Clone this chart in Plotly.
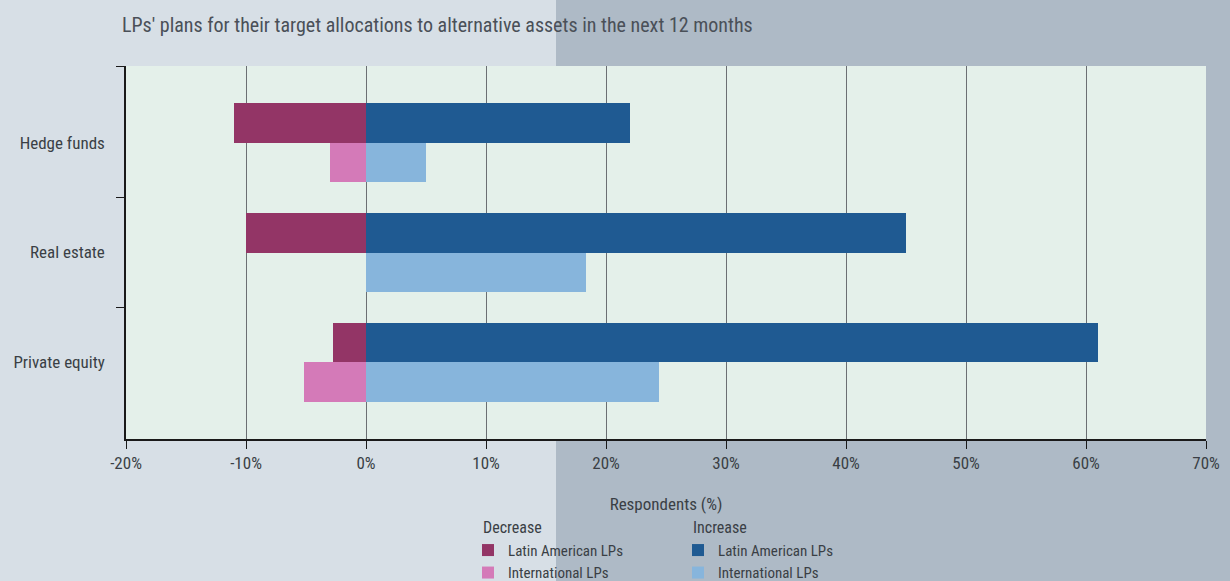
import plotly.graph_objects as go

# Asset classes, bottom to top on the y axis
categories = ["Private equity", "Real estate", "Hedge funds"]
positions = [0, 1, 2]

# Share of respondents (%) planning to decrease / increase target allocations
latam_decrease = [-2.75, -10, -11]
intl_decrease = [-5.2, 0, -3]
latam_increase = [61, 45, 22]
intl_increase = [24.4, 18.3, 5]

x_ticks = [-20, -10, 0, 10, 20, 30, 40, 50, 60, 70]

FONT = "Liberation Sans Narrow, Roboto Condensed, Arial Narrow, sans-serif"
TEXT = "#3a3f45"
FS = 17
LEG_FS = 15

BAR_W = 0.36

fig = go.Figure()

def add_bars(values, name, color, upper, legend, group_title):
    fig.add_trace(go.Bar(
        x=values, y=positions, orientation="h", name=name,
        marker=dict(color=color, line=dict(width=0)),
        width=BAR_W, offset=0 if upper else -BAR_W,
        legend=legend,
        legendgroup=legend,
        legendgrouptitle=dict(text=group_title, font=dict(family=FONT, size=LEG_FS + 1, color=TEXT)),
        hoverinfo="x+y",
    ))

add_bars(latam_decrease, "Latin American LPs", "#933566", True, "legend", "Decrease")
add_bars(intl_decrease, "International LPs", "#d47ab8", False, "legend", "Decrease")
add_bars(latam_increase, "Latin American LPs", "#1f5a92", True, "legend2", "Increase")
add_bars(intl_increase, "International LPs", "#87b5dc", False, "legend2", "Increase")

# Background panels: light left half, darker right half, mint plot area
fig.add_shape(type="rect", xref="paper", yref="paper",
              x0=(556 - 126) / 1080, x1=2, y0=-1, y1=2,
              fillcolor="#aebac6", line=dict(width=0), layer="below")
fig.add_shape(type="rect", xref="paper", yref="paper",
              x0=0, x1=1, y0=0, y1=1,
              fillcolor="#e4f0ea", line=dict(width=0), layer="below")

legend_style = dict(
    orientation="v", xanchor="left", yanchor="top",
    xref="container", yref="container",
    bgcolor="rgba(0,0,0,0)", borderwidth=0,
    font=dict(family=FONT, size=LEG_FS, color=TEXT),
    itemwidth=30, tracegroupgap=0, traceorder="normal",
    indentation=-10,
)

fig.update_layout(
    width=1230, height=581,
    margin=dict(l=126, r=24, t=66, b=142, autoexpand=False),
    paper_bgcolor="#d7dfe6",
    plot_bgcolor="rgba(0,0,0,0)",
    barmode="overlay",
    bargap=0,
    font=dict(family=FONT, size=FS, color=TEXT),
    title=dict(
        text="LPs' plans for their target allocations to alternative assets in the next 12 months",
        x=122 / 1230, xanchor="left", y=1 - 25 / 581, yanchor="middle",
        font=dict(family=FONT, size=20, color="#4a5058"),
    ),
    xaxis=dict(
        range=[-20, 70], tickvals=x_ticks,
        ticktext=[f"{v}%" for v in x_ticks],
        showgrid=True, gridcolor="#6b6f73", gridwidth=1,
        zeroline=False,
        showline=True, linecolor="#1a1a1a", linewidth=1.5,
        ticks="outside", ticklen=8, tickcolor="#1a1a1a",
        tickfont=dict(family=FONT, size=FS, color=TEXT),
        title=dict(text="Respondents (%)", standoff=26,
                   font=dict(family=FONT, size=FS, color=TEXT)),
        automargin=False,
        fixedrange=True,
    ),
    yaxis=dict(
        range=[-0.7, 2.7],
        tickvals=positions, ticktext=categories,
        ticks="", showgrid=False, zeroline=False,
        showline=True, linecolor="#1a1a1a", linewidth=1.5,
        ticklabelstandoff=16,
        tickfont=dict(family=FONT, size=FS, color=TEXT),
        minor=dict(tickvals=[0.5, 1.5, 2.7], ticks="outside", ticklen=8,
                   tickcolor="#1a1a1a", showgrid=False),
        automargin=False,
        fixedrange=True,
    ),
    legend=dict(x=478 / 1230, y=1 - 510 / 581, **legend_style),
    legend2=dict(x=688 / 1230, y=1 - 510 / 581, **legend_style),
    showlegend=True,
)

fig.write_html("out.html")
